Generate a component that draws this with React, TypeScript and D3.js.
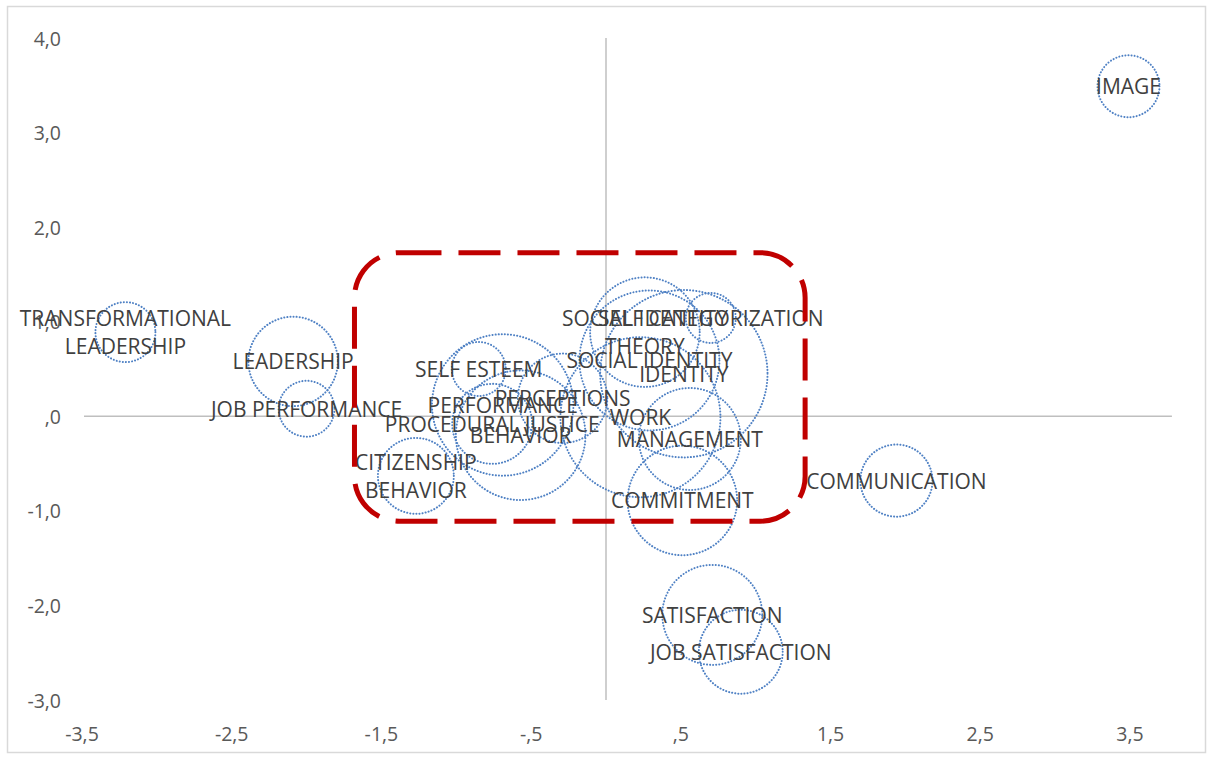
import React from 'react';
import * as d3 from 'd3';

// ---- data ----
const terms: string[] = [
  'IMAGE',
  'TRANSFORMATIONAL\nLEADERSHIP',
  'LEADERSHIP',
  'JOB PERFORMANCE',
  'COMMUNICATION',
  'SATISFACTION',
  'JOB SATISFACTION',
  'COMMITMENT',
  'SELF ESTEEM',
  'CITIZENSHIP\nBEHAVIOR',
  'PERFORMANCE',
  'BEHAVIOR',
  'PROCEDURAL JUSTICE',
  'PERCEPTIONS',
  'WORK',
  'MANAGEMENT',
  'SOCIAL IDENTITY\nTHEORY',
  'SELF CATEGORIZATION',
  'SOCIAL IDENTITY',
  'IDENTITY',
];
const xValues: number[] = [3.49, -3.21, -2.09, -2.0, 1.94, 0.71, 0.9, 0.51, -0.85, -1.27, -0.69, -0.57, -0.76, -0.29, 0.23, 0.56, 0.26, 0.7, 0.29, 0.52];
const yValues: number[] = [3.49, 0.89, 0.58, 0.08, -0.68, -2.1, -2.49, -0.89, 0.5, -0.63, 0.12, -0.2, -0.08, 0.19, -0.01, -0.24, 0.89, 1.04, 0.59, 0.45];
const sizes: number[] = [9.6, 9, 20, 7.8, 13, 25, 17.6, 30, 7.3, 14.4, 50, 42, 16, 20, 64, 26, 30, 6.25, 49, 70];

const xTicks: number[] = [-3.5, -2.5, -1.5, -0.5, 0.5, 1.5, 2.5, 3.5];
const yTicks: number[] = [-3, -2, -1, 0, 1, 2, 3, 4];

// highlighted region (data units): x from, x to, y from, y to
const highlightX: number[] = [-1.68, 1.33];
const highlightY: number[] = [1.73, -1.11];

const fmt = (v: number) => {
  const s = v.toFixed(1).replace('.', ',');
  return s.replace(/^(-?)0,/, '$1,');
};

export default function App() {
  const W = 1213;
  const H = 758;
  const x = d3.scaleLinear().domain([-3.5, 3.5]).range([82, 1130]);
  const y = d3.scaleLinear().domain([-3, 4]).range([700, 38]);
  const r = d3.scaleSqrt().domain([0, 100]).range([0, 100]);
  const xMax = 3.78;

  const hx0 = x(highlightX[0]);
  const hx1 = x(highlightX[1]);
  const hy0 = y(highlightY[0]);
  const hy1 = y(highlightY[1]);

  const font = "'Open Sans', sans-serif";

  return (
    <svg width={W} height={H} style={{ position: 'absolute', left: 0, top: 0, background: '#fff' }}>
      <rect x={7.5} y={6.5} width={1198} height={746} fill="#fff" stroke="#D9D9D9" strokeWidth={1.5} />
      {/* axes */}
      <line x1={x(-3.5) + 2} x2={x(xMax)} y1={y(0)} y2={y(0)} stroke="#BFBFBF" strokeWidth={1.5} />
      <line x1={x(0)} x2={x(0)} y1={y(4)} y2={y(-3)} stroke="#BFBFBF" strokeWidth={1.5} />
      {/* tick labels */}
      {yTicks.map((t) => (
        <text key={'y' + t} x={61} y={y(t)} textAnchor="end" dominantBaseline="central" fontFamily={font} fontSize={19.5} fill="#595959">
          {fmt(t)}
        </text>
      ))}
      {xTicks.map((t) => (
        <text key={'x' + t} x={x(t)} y={733} textAnchor="middle" dominantBaseline="central" fontFamily={font} fontSize={19.5} fill="#595959">
          {fmt(t)}
        </text>
      ))}
      {/* bubbles */}
      {terms.map((t, i) => (
        <circle
          key={'c' + i}
          cx={x(xValues[i])}
          cy={y(yValues[i])}
          r={r(sizes[i])}
          fill="none"
          stroke="#4F81C4"
          strokeWidth={2}
          strokeDasharray="0.1 3"
          strokeLinecap="round"
        />
      ))}
      {/* labels */}
      {terms.map((t, i) => {
        const lines = t.split('\n');
        const cx = x(xValues[i]);
        const cy = y(yValues[i]);
        const lh = 28;
        return (
          <text key={'l' + i} textAnchor="middle" fontFamily={font} fontSize={21} fill="#404040">
            {lines.map((ln, j) => (
              <tspan key={j} x={cx} y={cy + (j - (lines.length - 1) / 2) * lh} dominantBaseline="central">
                {ln}
              </tspan>
            ))}
          </text>
        );
      })}
      {/* highlight frame */}
      <rect
        x={hx0}
        y={hy0}
        width={hx1 - hx0}
        height={hy1 - hy0}
        rx={45}
        ry={45}
        fill="none"
        stroke="#C00000"
        strokeWidth={5}
        strokeDasharray="42 17"
      />
    </svg>
  );
}
